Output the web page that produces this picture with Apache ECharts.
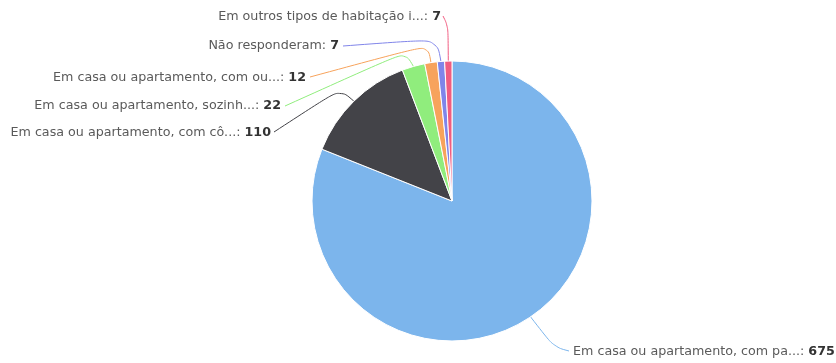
<!DOCTYPE html>
<html>
<head>
<meta charset="utf-8">
<script src="https://cdn.jsdelivr.net/npm/echarts@6/dist/echarts.min.js"></script>
<style>
  html, body { margin: 0; padding: 0; background: #fff; }
  #chart { width: 836px; height: 363px; }
</style>
</head>
<body>
<div id="chart"></div>
<script>
// Housing situation of respondents
const categories = [
  'Em casa ou apartamento, com pa...',
  'Em casa ou apartamento, com cô...',
  'Em casa ou apartamento, sozinh...',
  'Em casa ou apartamento, com ou...',
  'Não responderam',
  'Em outros tipos de habitação i...'
];
const counts = [675, 110, 22, 12, 7, 7];

const sliceColors = ['#7cb5ec', '#434348', '#90ed7d', '#f7a35c', '#8085e9', '#f15c80'];

// Where each label sits (text end next to its connector) and where its connector bends
const labelSpots = [
  { x: 573, y: 352, align: 'left',  end: [569, 351], bend: [554, 347] },
  { x: 271, y: 133, align: 'right', end: [274, 132], bend: [340, 89] },
  { x: 281, y: 106, align: 'right', end: [285, 106], bend: [405, 52] },
  { x: 306, y: 78,  align: 'right', end: [310, 77],  bend: [428, 45] },
  { x: 339, y: 46,  align: 'right', end: [343, 46],  bend: [437, 39] },
  { x: 441, y: 17,  align: 'right', end: [443, 16],  bend: [448, 26] }
];

const labelFont = 'DejaVu Sans';
const labelSize = 12.7;

const chart = echarts.init(document.getElementById('chart'), null, { renderer: 'canvas' });

chart.setOption({
  animation: false,
  color: sliceColors,
  series: [{
    type: 'pie',
    center: [452, 201],
    radius: 140,
    startAngle: 90,
    clockwise: true,
    avoidLabelOverlap: false,
    itemStyle: { borderColor: '#ffffff', borderWidth: 1 },
    label: {
      show: true,
      position: 'outside',
      formatter: '{n|{b}: }{v|{c}}',
      rich: {
        n: { color: '#5a5a5a', fontSize: labelSize, fontFamily: labelFont },
        v: { color: '#333333', fontSize: labelSize, fontWeight: 'bold', fontFamily: labelFont }
      }
    },
    labelLine: { show: true, length: 10, length2: 10, smooth: 0.4, lineStyle: { width: 1 } },
    labelLayout: function (params) {
      const spot = labelSpots[params.dataIndex];
      const pts = params.labelLinePoints;
      const start = pts && pts[0] ? pts[0] : spot.bend;
      return {
        x: spot.x,
        y: spot.y,
        align: spot.align,
        verticalAlign: 'middle',
        labelLinePoints: [start, spot.bend, spot.end]
      };
    },
    data: categories.map((name, i) => ({ name: name, value: counts[i] }))
  }]
});
</script>
</body>
</html>
